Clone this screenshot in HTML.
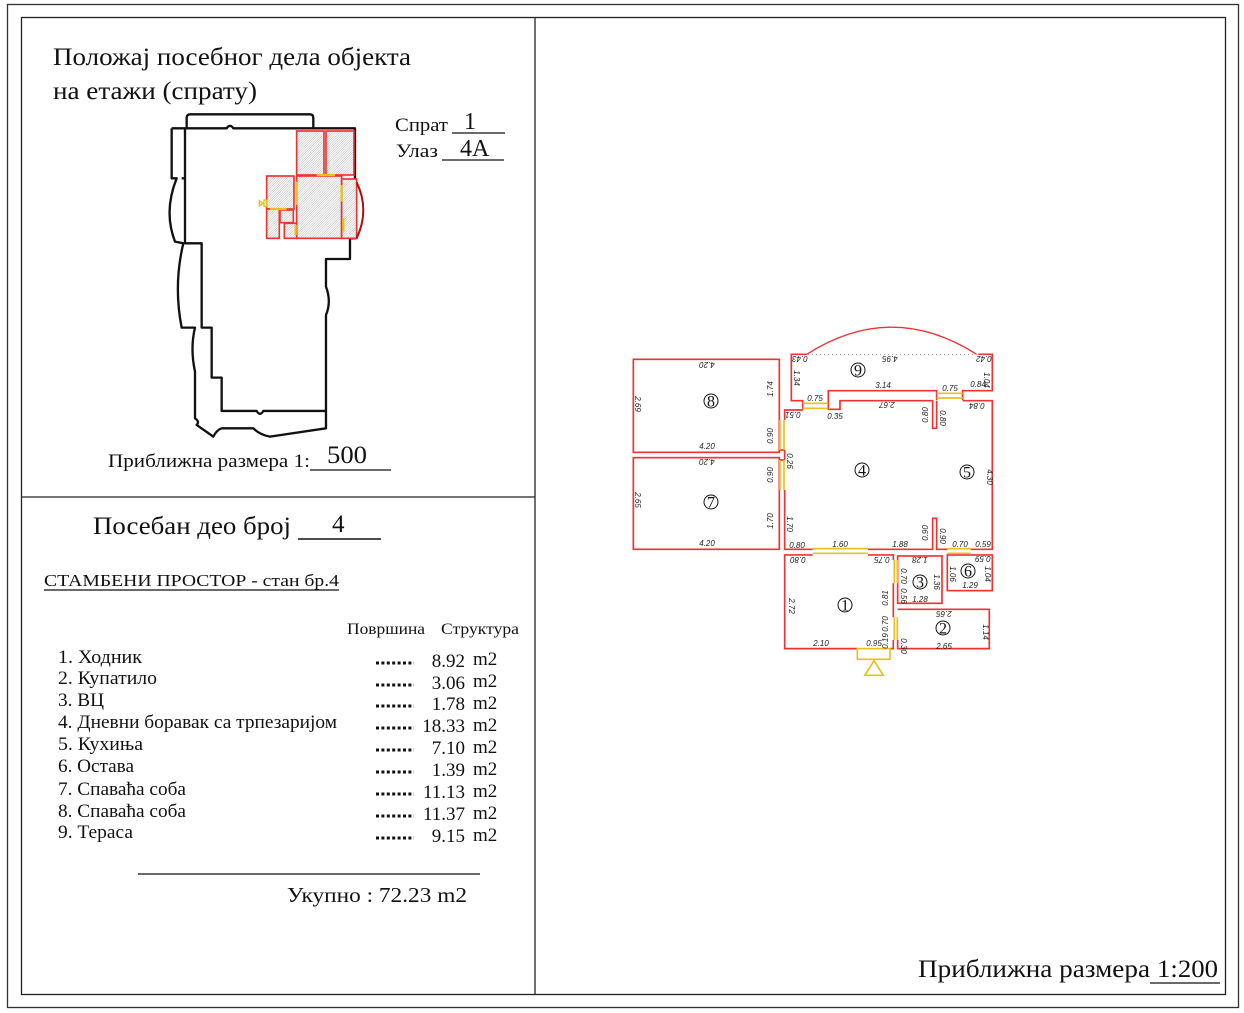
<!DOCTYPE html>
<html><head><meta charset="utf-8">
<style>
html,body{margin:0;padding:0;background:#fff;}
svg{display:block;}
text{font-family:"Liberation Serif","DejaVu Serif",serif;fill:#111;}
.d{font-family:"Liberation Sans",sans-serif;font-size:8px;font-style:italic;fill:#222;}
</style></head>
<body>
<svg width="1244" height="1013" viewBox="0 0 1244 1013" xmlns="http://www.w3.org/2000/svg">
<defs>
<pattern id="h" width="5" height="5" patternUnits="userSpaceOnUse" patternTransform="rotate(45)">
<rect width="5" height="5" fill="#fff"/><line x1="0" y1="0" x2="0" y2="5" stroke="#666" stroke-width="1.4"/>
</pattern>
</defs>
<rect x="7.5" y="4.5" width="1231" height="1003" fill="none" stroke="#333" stroke-width="1.3"/>
<rect x="21.5" y="17.5" width="1204" height="977" fill="none" stroke="#222" stroke-width="1.3"/>
<line x1="535" y1="18" x2="535" y2="994" stroke="#222" stroke-width="1.3"/>
<line x1="21" y1="497" x2="535" y2="497" stroke="#222" stroke-width="1.3"/>

<text x="53" y="65" font-size="25" textLength="358" lengthAdjust="spacingAndGlyphs">Положај посебног дела објекта</text>
<text x="53" y="99" font-size="25" textLength="204" lengthAdjust="spacingAndGlyphs">на етажи (спрату)</text>
<text x="395" y="131" font-size="19" textLength="53" lengthAdjust="spacingAndGlyphs">Спрат</text>
<text x="464" y="129" font-size="24">1</text>
<line x1="452" y1="133" x2="505" y2="133" stroke="#111" stroke-width="1.2"/>
<text x="396" y="157" font-size="19" textLength="42" lengthAdjust="spacingAndGlyphs">Улаз</text>
<text x="460" y="156" font-size="24">4A</text>
<line x1="442" y1="160" x2="504" y2="160" stroke="#111" stroke-width="1.2"/>

<!-- small building plan -->
<g transform="translate(150,105) scale(0.3333)" fill="none" stroke="#111" stroke-width="7" stroke-linejoin="round">
<path d="M110,70 L110,38 Q110,28 122,28 L480,28 Q490,28 490,40 L490,68"/>
<path d="M65,70 L230,70 Q240,55 250,70 L615,70 L615,400 L600,400 L600,462 L528,462 L528,545 Q545,590 528,630 L528,918 L340,918 Q330,935 320,918 L215,918 L215,818 L185,818 L185,668 L155,668 L155,415 L105,415 L105,70"/>
<path d="M65,70 L65,220 L80,220 Q40,320 75,410 L100,415 Q70,540 95,668 L135,668 Q120,730 135,800 L135,940 Q150,950 140,960 L190,995 Q200,975 215,970 L310,970 Q330,990 360,995 L528,970 L528,918"/>
<path d="M95,220 L105,220"/>
</g>
<g transform="translate(150,105) scale(0.3333)" stroke="#e33" stroke-width="5" fill="url(#h)">
<rect x="440" y="78" width="82" height="132"/>
<rect x="528" y="78" width="84" height="132"/>
<rect x="440" y="213" width="135" height="187"/>
<rect x="575" y="222" width="45" height="178"/>
<rect x="350" y="213" width="82" height="99"/>
<rect x="350" y="312" width="38" height="88"/>
<rect x="403" y="355" width="37" height="45"/>
<rect x="390" y="315" width="40" height="38"/>
</g>
<g transform="translate(150,105) scale(0.3333)" fill="none">
<path d="M620,232 Q660,315 620,400" stroke="#a11" stroke-width="6"/>
<path d="M440,230 L440,300 M500,210 L555,210 M575,240 L575,290 M580,340 L580,380 M360,312 L410,312 M437,360 L437,390" stroke="#e8c020" stroke-width="7"/>
<path d="M328,287 L340,295 L328,303 Z M342,285 L350,285 L350,305 L342,305Z" stroke="#e8c020" stroke-width="4"/>
</g>

<text x="108" y="467" font-size="19" textLength="202" lengthAdjust="spacingAndGlyphs">Приближна размера  1:</text>
<text x="327" y="463" font-size="25" textLength="40" lengthAdjust="spacingAndGlyphs">500</text>
<line x1="310" y1="470" x2="391" y2="470" stroke="#111" stroke-width="1.2"/>

<text x="93" y="534" font-size="25" textLength="198" lengthAdjust="spacingAndGlyphs">Посебан део број</text>
<text x="332" y="532" font-size="25">4</text>
<line x1="298" y1="539" x2="381" y2="539" stroke="#111" stroke-width="1.5"/>

<text x="44" y="586" font-size="17" textLength="295" lengthAdjust="spacingAndGlyphs">СТАМБЕНИ  ПРОСТОР - стан бр.4</text>
<line x1="44" y1="590" x2="339" y2="590" stroke="#111" stroke-width="1.2"/>
<text x="347" y="634" font-size="16" textLength="78" lengthAdjust="spacingAndGlyphs">Површина</text>
<text x="441" y="634" font-size="16" textLength="78" lengthAdjust="spacingAndGlyphs">Структура</text>

<g font-size="19">
<text x="58" y="663" textLength="84" lengthAdjust="spacingAndGlyphs">1. Ходник</text>
<text x="58" y="684" textLength="99" lengthAdjust="spacingAndGlyphs">2. Купатило</text>
<text x="58" y="706" textLength="46" lengthAdjust="spacingAndGlyphs">3. ВЦ</text>
<text x="58" y="728" textLength="279" lengthAdjust="spacingAndGlyphs">4. Дневни боравак са трпезаријом</text>
<text x="58" y="750" textLength="85" lengthAdjust="spacingAndGlyphs">5. Кухиња</text>
<text x="58" y="772" textLength="76" lengthAdjust="spacingAndGlyphs">6. Остава</text>
<text x="58" y="795" textLength="128" lengthAdjust="spacingAndGlyphs">7. Спаваћа соба</text>
<text x="58" y="817" textLength="128" lengthAdjust="spacingAndGlyphs">8. Спаваћа соба</text>
<text x="58" y="838" textLength="75" lengthAdjust="spacingAndGlyphs">9. Тераса</text>
</g>
<g font-size="19">
<text x="465" y="667" text-anchor="end">8.92</text>
<text x="465" y="689" text-anchor="end">3.06</text>
<text x="465" y="710" text-anchor="end">1.78</text>
<text x="465" y="732" text-anchor="end">18.33</text>
<text x="465" y="754" text-anchor="end">7.10</text>
<text x="465" y="776" text-anchor="end">1.39</text>
<text x="465" y="798" text-anchor="end">11.13</text>
<text x="465" y="820" text-anchor="end">11.37</text>
<text x="465" y="842" text-anchor="end">9.15</text>
<text x="473" y="665">m2</text><text x="473" y="687">m2</text><text x="473" y="709">m2</text>
<text x="473" y="731">m2</text><text x="473" y="753">m2</text><text x="473" y="775">m2</text>
<text x="473" y="797">m2</text><text x="473" y="819">m2</text><text x="473" y="841">m2</text>
</g>
<g stroke="#111" stroke-width="3" stroke-dasharray="3 2.4">
<line x1="376" y1="663" x2="414" y2="663"/><line x1="376" y1="685" x2="414" y2="685"/>
<line x1="376" y1="706" x2="414" y2="706"/><line x1="376" y1="728" x2="414" y2="728"/>
<line x1="376" y1="750" x2="414" y2="750"/><line x1="376" y1="772" x2="414" y2="772"/>
<line x1="376" y1="794" x2="414" y2="794"/><line x1="376" y1="816" x2="414" y2="816"/>
<line x1="376" y1="838" x2="414" y2="838"/>
</g>
<line x1="138" y1="874" x2="480" y2="874" stroke="#111" stroke-width="1.2"/>
<text x="287" y="902" font-size="21" textLength="180" lengthAdjust="spacingAndGlyphs">Укупно :  72.23 m2</text>

<text x="918" y="977" font-size="25" textLength="232" lengthAdjust="spacingAndGlyphs">Приближна размера</text>
<text x="1157" y="977" font-size="25" textLength="61" lengthAdjust="spacingAndGlyphs">1:200</text>
<line x1="1150" y1="983" x2="1220" y2="983" stroke="#111" stroke-width="1.2"/>

<!-- floor plan -->
<g transform="translate(620,320) scale(0.3333)" fill="none" stroke-linejoin="miter">
<g stroke="#e33" stroke-width="5">
<rect x="40" y="118" width="438" height="279"/>
<rect x="40" y="413" width="438" height="275"/>
<path d="M560,103 L514,103 L514,242 L548,242 L548,270 M625,270 L625,212 L950,212 L950,240 M1028,240 L1028,212 L1117,212 L1117,103 L1075,103"/>
<path d="M560,103 Q815,-60 1070,103" stroke-width="4"/>
<path d="M494,300 L494,270 L548,270 M625,268 L660,268 L660,242 L938,242 L938,325 L950,325 L950,242 M1028,242 L1117,242 L1117,688 L1052,688 M982,688 L950,688 L950,595 L938,595 L938,688 L744,688 M578,688 L494,688 L494,510 M494,390 L494,420"/>
<path d="M578,705 L494,705 L494,986 L712,986 M810,986 L820,986 L820,960 M820,892 L820,790 M744,705 L820,705 L820,720"/>
<rect x="833" y="708" width="133" height="142"/>
<rect x="982" y="705" width="135" height="107"/>
<path d="M833,868 L1108,868 L1108,986 L833,986 L833,960"/>
<path d="M478,390 L494,390 M478,420 L494,420"/>
</g>
<g stroke="#e8c020" stroke-width="5">
<path d="M548,250 L625,250 M548,265 L625,265 M950,220 L1028,220 M950,234 L1028,234"/>
<path d="M480,300 L480,390 M492,300 L492,390 M480,420 L480,510 M492,420 L492,510"/>
<path d="M578,686 L744,686 M578,700 L744,700 M982,686 L1052,686 M982,700 L1052,700"/>
<path d="M823,720 L823,790 M832,720 L832,790 M823,892 L823,960 M832,892 L832,960"/>
<rect x="712" y="986" width="98" height="32"/>
<path d="M735,1066 L790,1066 L762,1022 Z"/>
</g>
<path d="M565,103 L1065,103" stroke="#333" stroke-width="2" stroke-dasharray="2 10"/>
</g>
<g font-size="16" text-anchor="middle">
<circle cx="711" cy="401" r="7" fill="none" stroke="#111"/><text x="711" y="406.5">8</text>
<circle cx="711" cy="502" r="7" fill="none" stroke="#111"/><text x="711" y="507.5">7</text>
<circle cx="862" cy="470" r="7" fill="none" stroke="#111"/><text x="862" y="475.5">4</text>
<circle cx="967" cy="472" r="7" fill="none" stroke="#111"/><text x="967" y="477.5">5</text>
<circle cx="858" cy="370" r="7" fill="none" stroke="#111"/><text x="858" y="375.5">9</text>
<circle cx="845" cy="605" r="7" fill="none" stroke="#111"/><text x="845" y="610.5">1</text>
<circle cx="920" cy="582" r="7" fill="none" stroke="#111"/><text x="920" y="587.5">3</text>
<circle cx="943" cy="628" r="7" fill="none" stroke="#111"/><text x="943" y="633.5">2</text>
<circle cx="968" cy="571" r="7" fill="none" stroke="#111"/><text x="968" y="576.5">6</text>
</g>
<g class="d" text-anchor="middle">
<text class="d" x="707" y="449">4.20</text>
<text class="d" x="707" y="546">4.20</text>
<text class="d" x="707" y="368" transform="rotate(180 707 365)">4.20</text>
<text class="d" x="707" y="465" transform="rotate(180 707 462)">4.20</text>
<text class="d" x="883" y="388">3.14</text>
<text class="d" x="815" y="401">0.75</text>
<text class="d" x="950" y="391">0.75</text>
<text class="d" x="978" y="387">0.84</text>
<text class="d" x="835" y="419">0.35</text>
<text class="d" x="797" y="548">0.80</text>
<text class="d" x="840" y="547">1.60</text>
<text class="d" x="900" y="547">1.88</text>
<text class="d" x="960" y="547">0.70</text>
<text class="d" x="983" y="547">0.59</text>
<text class="d" x="920" y="602">1.28</text>
<text class="d" x="970" y="588">1.29</text>
<text class="d" x="821" y="646">2.10</text>
<text class="d" x="874" y="646">0.95</text>
<text class="d" x="944" y="649">2.65</text>
<text class="d" x="887" y="408" transform="rotate(180 887 405)">2.67</text>
<text class="d" x="890" y="362" transform="rotate(180 890 359)">4.95</text>
<text class="d" x="800" y="362" transform="rotate(180 800 359)">0.43</text>
<text class="d" x="984" y="362" transform="rotate(180 984 359)">0.42</text>
<text class="d" x="977" y="409" transform="rotate(180 977 406)">0.84</text>
<text class="d" x="793" y="418" transform="rotate(180 793 415)">0.51</text>
<text class="d" x="798" y="563" transform="rotate(180 798 560)">0.80</text>
<text class="d" x="882" y="563" transform="rotate(180 882 560)">0.75</text>
<text class="d" x="920" y="563" transform="rotate(180 920 560)">1.28</text>
<text class="d" x="983" y="562" transform="rotate(180 983 559)">0.59</text>
<text class="d" x="944" y="617" transform="rotate(180 944 614)">2.65</text>
<text class="d" x="638" y="407" transform="rotate(90 638 404)">2.69</text>
<text class="d" x="638" y="503" transform="rotate(90 638 500)">2.65</text>
<text class="d" x="773" y="389" transform="rotate(-90 773 389)">1.74</text>
<text class="d" x="773" y="436" transform="rotate(-90 773 436)">0.90</text>
<text class="d" x="773" y="475" transform="rotate(-90 773 475)">0.90</text>
<text class="d" x="773" y="521" transform="rotate(-90 773 521)">1.70</text>
<text class="d" x="790" y="521" transform="rotate(90 787 521)">1.70</text>
<text class="d" x="790" y="458" transform="rotate(90 787 458)">0.26</text>
<text class="d" x="797" y="375" transform="rotate(90 794 375)">1.34</text>
<text class="d" x="987" y="377" transform="rotate(90 984 377)">1.04</text>
<text class="d" x="928" y="415" transform="rotate(-90 928 415)">0.80</text>
<text class="d" x="943" y="415" transform="rotate(90 940 415)">0.80</text>
<text class="d" x="928" y="533" transform="rotate(-90 928 533)">0.90</text>
<text class="d" x="943" y="533" transform="rotate(90 940 533)">0.90</text>
<text class="d" x="990" y="474" transform="rotate(90 987 474)">4.30</text>
<text class="d" x="792" y="603" transform="rotate(90 789 603)">2.72</text>
<text class="d" x="888" y="598" transform="rotate(-90 888 598)">0.81</text>
<text class="d" x="888" y="624" transform="rotate(-90 888 624)">0.70</text>
<text class="d" x="888" y="641" transform="rotate(-90 888 641)">0.19</text>
<text class="d" x="904" y="573" transform="rotate(90 901 573)">0.70</text>
<text class="d" x="904" y="593" transform="rotate(90 901 593)">0.56</text>
<text class="d" x="904" y="643" transform="rotate(90 901 643)">0.30</text>
<text class="d" x="937" y="579" transform="rotate(90 934 579)">1.36</text>
<text class="d" x="953" y="571" transform="rotate(90 950 571)">1.06</text>
<text class="d" x="988" y="571" transform="rotate(90 985 571)">1.04</text>
<text class="d" x="986" y="629" transform="rotate(90 983 629)">1.14</text>
</g>
</svg>
</body></html>
